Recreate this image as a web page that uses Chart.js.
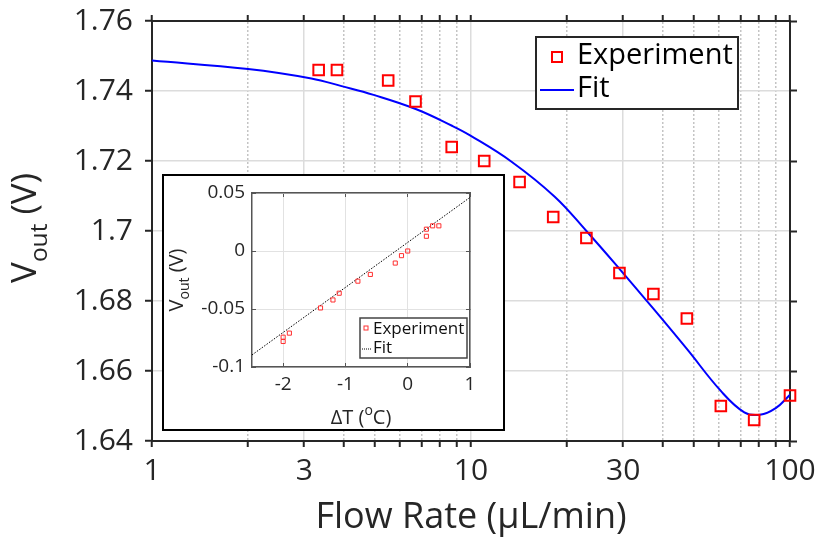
<!DOCTYPE html>
<html>
<head>
<meta charset="utf-8">
<script src="https://cdn.jsdelivr.net/npm/chart.js@4.4.0/dist/chart.umd.min.js"></script>
<style>
  html, body { margin: 0; padding: 0; background: #fff; }
  #wrap { position: relative; width: 819px; height: 540px; }
  #main { position: absolute; left: 0; top: 0; }
  #insetBox { position: absolute; left: 162px; top: 174px; width: 343px; height: 257px;
              border: 2px solid #000; box-sizing: border-box; background: #fff; }
</style>
</head>
<body>
<div id="wrap">
  <canvas id="main" width="819" height="540"></canvas>
  <div id="insetBox"><canvas id="inset" width="339" height="253"></canvas></div>
</div>
<script>
const FONT = "'Open Sans', sans-serif";
const INK = '#262626';

// main plot: output voltage vs flow rate
const flowRate = [3.33, 3.8, 5.5, 6.7, 8.7, 11, 14.2, 18.1, 23, 29.2, 37.3, 47.5, 60.7, 77.2, 100];
const vOutExp  = [1.746, 1.746, 1.743, 1.737, 1.724, 1.720, 1.714, 1.704, 1.698, 1.688, 1.682, 1.675, 1.650, 1.646, 1.653];
const fitFlow  = [1, 2, 3.16, 3.93, 4.95, 6.74, 8.75, 9.9, 13.4, 18.3, 23, 29.2, 37.3, 47.5, 60.7, 71.9, 80.5, 90.2, 100];
const fitVout  = [1.7487, 1.7463, 1.7436, 1.7414, 1.7389, 1.7348, 1.7300, 1.7274, 1.7198, 1.7098, 1.7000,
                  1.6892, 1.6778, 1.6663, 1.6543, 1.6482, 1.6475, 1.6494, 1.6532];
const xMajor = [1, 3, 10, 30, 100];
const xMinor = [2, 4, 5, 6, 7, 8, 9, 20, 40, 50, 60, 70, 80, 90];
const yTicks = [1.64, 1.66, 1.68, 1.70, 1.72, 1.74, 1.76];

// inset: output voltage vs temperature change
const dT  = [-2, -2, -1.9, -1.4, -1.2, -1.1, -0.8, -0.6, -0.2, -0.1, 0, 0.3, 0.3, 0.4, 0.5];
const dV  = [-0.0743, -0.078, -0.0708, -0.0491, -0.0422, -0.0364, -0.026, -0.0202, -0.0104, -0.004, 0,
             0.0127, 0.0188, 0.0217, 0.0217];
const fitDT = [-2.5, 1];
const fitDV = [-0.0896, 0.0462];
const dTTicks = [-2, -1, 0, 1];
const dVTicks = [-0.1, -0.05, 0, 0.05];

const allX = xMajor.concat(xMinor).sort((a, b) => a - b);
const toPoints = (xs, ys) => xs.map((x, i) => ({ x: x, y: ys[i] }));
const setTicks = list => scale => { scale.ticks = list.map(v => ({ value: v })); };
const isMajor = v => xMajor.includes(v);
// fixed axis size, and no extra room asked for the end labels
const fixSize = (w, h) => s => {
  if (w != null) s.width = w;
  if (h != null) s.height = h;
  s.paddingTop = s.paddingBottom = s.paddingLeft = s.paddingRight = 0;
};

// text with a sub/superscript part, centred on (0,0), baseline at 0
function drawParts(ctx, parts, size) {
  let total = 0;
  parts.forEach(p => {
    ctx.font = `${size * (p.s || 1)}px ${FONT}`;
    p.w = ctx.measureText(p.t).width;
    total += p.w;
  });
  let x = -total / 2;
  ctx.textAlign = 'left';
  ctx.textBaseline = 'alphabetic';
  parts.forEach(p => {
    ctx.font = `${size * (p.s || 1)}px ${FONT}`;
    ctx.fillText(p.t, x, (p.dy || 0) * size);
    x += p.w;
  });
}

const mainDecor = {
  id: 'mainDecor',
  afterDraw(chart) {
    const { ctx, chartArea: a } = chart;
    ctx.save();
    ctx.fillStyle = INK;
    ctx.font = `36px ${FONT}`;
    ctx.textAlign = 'center';
    ctx.textBaseline = 'alphabetic';
    ctx.fillText('Flow Rate (\u03bcL/min)', (a.left + a.right) / 2, 528);

    ctx.save();
    ctx.translate(36, 228);
    ctx.rotate(-Math.PI / 2);
    drawParts(ctx, [{ t: 'V' }, { t: 'out', s: 0.7, dy: 0.3 }, { t: ' (V)' }], 35);
    ctx.restore();

    // legend
    const lx = a.right - 254, ly = a.top + 16;
    ctx.fillStyle = '#fff';
    ctx.fillRect(lx, ly, 202, 72);
    ctx.lineWidth = 2;
    ctx.strokeStyle = INK;
    ctx.strokeRect(lx, ly, 202, 72);
    ctx.strokeStyle = '#ff0000';
    ctx.strokeRect(lx + 16, ly + 15, 10, 10);
    ctx.strokeStyle = '#0000ff';
    ctx.beginPath();
    ctx.moveTo(lx + 4, ly + 53);
    ctx.lineTo(lx + 38, ly + 53);
    ctx.stroke();
    ctx.fillStyle = '#000';
    ctx.font = `29px ${FONT}`;
    ctx.textAlign = 'left';
    ctx.textBaseline = 'middle';
    ctx.fillText('Experiment', lx + 41, ly + 19);
    ctx.fillText('Fit', lx + 41, ly + 52);
    ctx.restore();
  }
};

new Chart(document.getElementById('main'), {
  type: 'scatter',
  data: {
    datasets: [
      {
        label: 'Experiment',
        data: toPoints(flowRate, vOutExp),
        pointStyle: 'rect',
        pointRadius: 7.5,
        pointBorderWidth: 2,
        borderColor: '#ff0000',
        backgroundColor: 'rgba(0,0,0,0)',
        clip: false
      },
      {
        label: 'Fit',
        data: toPoints(fitFlow, fitVout),
        showLine: true,
        borderColor: '#0000ff',
        borderWidth: 2,
        pointRadius: 0,
        tension: 0.4,
        fill: false
      }
    ]
  },
  options: {
    responsive: false,
    animation: false,
    layout: { padding: 0 },
    plugins: { legend: { display: false }, tooltip: { enabled: false } },
    scales: {
      x: {
        type: 'logarithmic', position: 'bottom', min: 1, max: 100,
        afterBuildTicks: setTicks(allX),
        afterFit: fixSize(null, 99),
        ticks: {
          autoSkip: false, maxRotation: 0, minRotation: 0, padding: 6, color: INK,
          font: { family: FONT, size: 30 },
          callback: v => isMajor(v) ? String(v) : ''
        },
        grid: {
          color: c => isMajor(c.tick.value) ? '#dcdcdc' : 'rgba(0,0,0,0)',
          lineWidth: 1.5, tickColor: INK, tickLength: 6, tickWidth: 2
        },
        border: { color: INK, width: 2 }
      },
      xt: {
        type: 'logarithmic', position: 'top', min: 1, max: 100,
        afterBuildTicks: setTicks(allX),
        afterFit: fixSize(null, 21),
        ticks: { display: false },
        grid: {
          color: c => isMajor(c.tick.value) ? 'rgba(0,0,0,0)' : '#c4c4c4',
          lineWidth: 1.5, tickColor: INK, tickLength: 6, tickWidth: 2
        },
        border: { color: INK, width: 2, dash: [2, 2] }
      },
      y: {
        position: 'left', min: 1.64, max: 1.76,
        afterBuildTicks: setTicks(yTicks),
        afterFit: fixSize(152, null),
        ticks: {
          padding: 12, color: INK, font: { family: FONT, size: 30 },
          callback: v => String(+v.toFixed(2))
        },
        grid: { color: '#dcdcdc', lineWidth: 1.5, tickColor: INK, tickLength: 7, tickWidth: 2 },
        border: { color: INK, width: 2 }
      },
      yr: {
        position: 'right', min: 1.64, max: 1.76,
        afterBuildTicks: setTicks(yTicks),
        afterFit: fixSize(29, null),
        ticks: { display: false },
        grid: { drawOnChartArea: false, tickColor: INK, tickLength: 7, tickWidth: 2 },
        border: { color: INK, width: 2 }
      }
    }
  },
  plugins: [mainDecor]
});

const insetDecor = {
  id: 'insetDecor',
  afterDraw(chart) {
    const { ctx, chartArea: a } = chart;
    ctx.save();
    ctx.fillStyle = INK;
    ctx.save();
    ctx.translate((a.left + a.right) / 2, 248);
    drawParts(ctx, [{ t: '\u0394T (' }, { t: 'o', s: 0.7, dy: -0.45 }, { t: 'C)' }], 20);
    ctx.restore();

    ctx.save();
    ctx.translate(19, (a.top + a.bottom) / 2);
    ctx.rotate(-Math.PI / 2);
    drawParts(ctx, [{ t: 'V' }, { t: 'out', s: 0.7, dy: 0.3 }, { t: ' (V)' }], 20);
    ctx.restore();

    // legend
    const lx = a.right - 110, ly = a.bottom - 49;
    ctx.fillStyle = '#fff';
    ctx.fillRect(lx, ly, 107, 40);
    ctx.lineWidth = 1.5;
    ctx.strokeStyle = '#444';
    ctx.strokeRect(lx, ly, 107, 40);
    ctx.lineWidth = 1;
    ctx.strokeStyle = '#ff3030';
    ctx.strokeRect(lx + 4, ly + 8, 4, 4);
    ctx.strokeStyle = '#000';
    ctx.setLineDash([1, 1]);
    ctx.beginPath();
    ctx.moveTo(lx + 2, ly + 31);
    ctx.lineTo(lx + 12, ly + 31);
    ctx.stroke();
    ctx.setLineDash([]);
    ctx.fillStyle = '#111';
    ctx.font = `17px ${FONT}`;
    ctx.textAlign = 'left';
    ctx.textBaseline = 'middle';
    ctx.fillText('Experiment', lx + 13, ly + 11);
    ctx.fillText('Fit', lx + 13, ly + 30);
    ctx.restore();
  }
};

const insetTickFont = { family: FONT, size: 19 };
new Chart(document.getElementById('inset'), {
  type: 'scatter',
  data: {
    datasets: [
      {
        label: 'Experiment',
        data: toPoints(dT, dV),
        pointStyle: 'rect',
        pointRadius: 2.9,
        pointBorderWidth: 1,
        borderColor: '#ff3030',
        backgroundColor: 'rgba(0,0,0,0)',
        clip: false
      },
      {
        label: 'Fit',
        data: toPoints(fitDT, fitDV),
        showLine: true,
        borderColor: '#000',
        borderWidth: 1,
        borderDash: [1.5, 1.5],
        pointRadius: 0
      }
    ]
  },
  options: {
    responsive: false,
    animation: false,
    layout: { padding: 0 },
    plugins: { legend: { display: false }, tooltip: { enabled: false } },
    scales: {
      x: {
        type: 'linear', position: 'bottom', min: -2.5, max: 1,
        afterBuildTicks: setTicks(dTTicks),
        afterFit: fixSize(null, 62),
        ticks: { autoSkip: false, maxRotation: 0, padding: 10, color: INK, font: insetTickFont,
                 callback: v => String(v) },
        grid: { color: '#e2e2e2', tickColor: '#555', tickLength: -4, tickWidth: 1 },
        border: { color: '#555', width: 1.5 }
      },
      xt: {
        type: 'linear', position: 'top', min: -2.5, max: 1,
        afterBuildTicks: setTicks(dTTicks),
        afterFit: fixSize(null, 17),
        ticks: { display: false },
        grid: { drawOnChartArea: false, tickColor: '#555', tickLength: -4, tickWidth: 1 },
        border: { color: '#555', width: 1.5 }
      },
      y: {
        position: 'left', min: -0.1, max: 0.05,
        afterBuildTicks: setTicks(dVTicks),
        afterFit: fixSize(88, null),
        ticks: { padding: 11, color: INK, font: insetTickFont, callback: v => String(v) },
        grid: { color: '#e2e2e2', tickColor: '#555', tickLength: -4, tickWidth: 1 },
        border: { color: '#555', width: 1.5 }
      },
      yr: {
        position: 'right', min: -0.1, max: 0.05,
        afterBuildTicks: setTicks(dVTicks),
        afterFit: fixSize(33, null),
        ticks: { display: false },
        grid: { drawOnChartArea: false, tickColor: '#555', tickLength: -4, tickWidth: 1 },
        border: { color: '#555', width: 1.5 }
      }
    }
  },
  plugins: [insetDecor]
});
</script>
</body>
</html>
